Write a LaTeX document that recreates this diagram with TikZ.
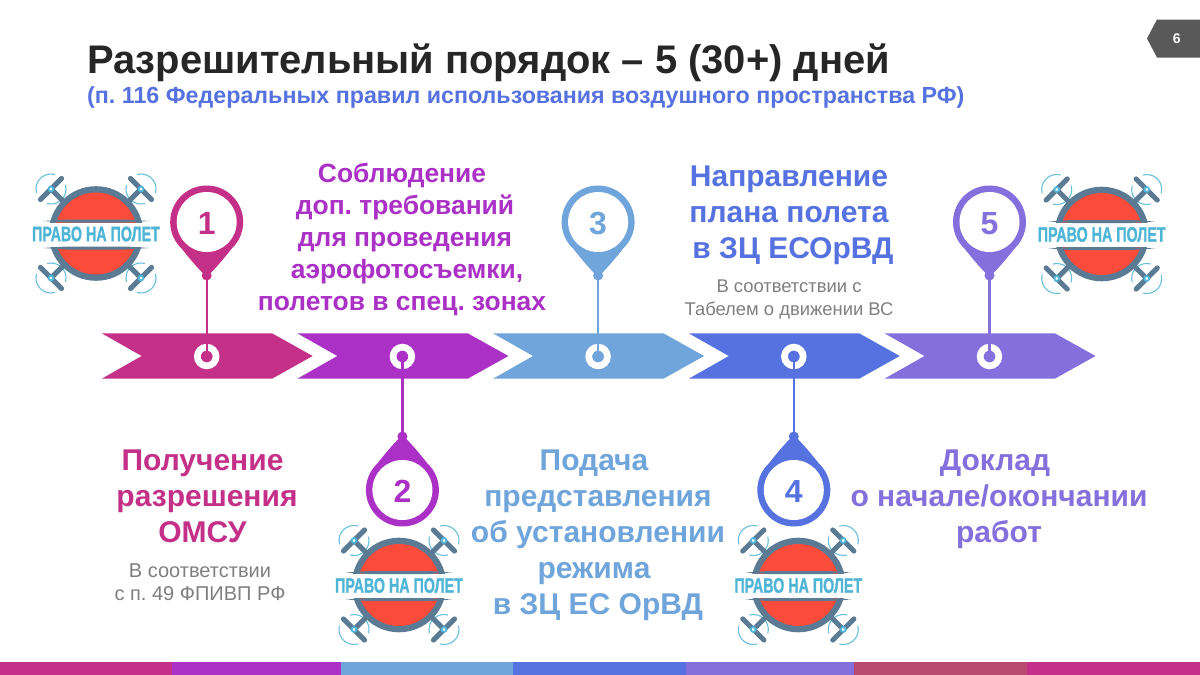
\documentclass[tikz,border=0pt]{standalone}
\usepackage{fontspec}
\setmainfont{Liberation Sans}
\newfontfamily\logofont[UprightFont={* Bold},FakeBold=1.5]{Liberation Sans}
\frenchspacing
\definecolor{cola}{HTML}{C43088}
\definecolor{colb}{HTML}{AA30C6}
\definecolor{colc}{HTML}{6FA5DA}
\definecolor{cold}{HTML}{5672E0}
\definecolor{cole}{HTML}{8470DC}
\definecolor{colf}{HTML}{B84A70}
\definecolor{ringdark}{HTML}{5B7A93}
\definecolor{redfill}{HTML}{FA4B3B}
\definecolor{logoblue}{HTML}{4FB5D6}
\definecolor{graytext}{HTML}{7F7F7F}
\definecolor{badgegray}{HTML}{595959}
\tikzset{
  headtext/.style={font=\fontsize{#1}{#1}\selectfont\bfseries,anchor=base west,inner sep=0pt},
  steptext/.style={font=\fontsize{30}{36}\selectfont\bfseries,align=center,inner sep=0pt,text=#1},
  smalltext/.style={font=\fontsize{18.4}{23}\selectfont,align=center,inner sep=0pt,text=graytext},
  pinnum/.style={font=\fontsize{32}{32}\selectfont\bfseries,inner sep=0pt,text=#1},
  ringmark/.style={circle,draw=white,line width=6.7pt,minimum size=18.7pt,inner sep=0pt},
  stem/.style={line width=2.4pt,draw=#1},
  pics/dronelogo/.style={code={
    \foreach \sx/\sy/\ang in {-1/1/135,1/1/45,-1/-1/225,1/-1/-45}{
      \begin{scope}[shift={(\sx*45,\sy*44.5)},rotate=\ang]
      \draw [logoblue!85,line width=1.1pt] (-60:15) arc (-60:60:15);
      \draw [logoblue!85,line width=1.1pt] (120:15) arc (120:240:15);
      \draw [ringdark,line width=5pt] (0,0) -- (-20,0);
      \draw [ringdark,line width=5pt,line cap=round] (0,-15) -- (0,15);
      \fill [logoblue] (0,0) circle (3.4);
      \fill [white] (0,0) circle (1.6);
      \end{scope}
    }
    \fill [ringdark] (0,0) circle (47.3);
    \fill [redfill] (0,0) circle (41);
    \fill [white] (-62,11) rectangle (62,-13);
    \fill [ringdark] (-53,12.5) -- (-30,14) -- (30,14) -- (53,12.5) -- (30,11) -- (-30,11) -- cycle;
    \fill [ringdark] (-53,-14.5) -- (-30,-13) -- (30,-13) -- (53,-14.5) -- (30,-16) -- (-30,-16) -- cycle;
    \node (-text) [xscale=0.68,text=logoblue,inner sep=0pt,font=\fontsize{21}{21}\logofont] at (0,-0.5) {ПРАВО НА ПОЛЕТ};
  }}
}
% name, x, y, colour, number, rotation
\newcommand{\pinmark}[6]{
\begin{scope}[shift={(#2,#3)},rotate=#6]
\fill [#4] (-3,-52) .. controls (-9,-46) and (-16,-38) .. (-133:36.5) arc (-133:-407:36.5) .. controls (16,-38) and (9,-46) .. (3,-52) -- cycle;
\fill [white] (0,0) circle (30);
\fill [#4] (0,-53.5) circle (5);
\coordinate (knob#1) at (0,-53.5);
\end{scope}
\node (pin#1) [pinnum=#4] at (#2,#3-1.5) {#5};
}
\begin{document}
\begin{tikzpicture}[x=1pt,y=1pt]
\useasboundingbox (0,0) rectangle (1200,-675);
\fill [white] (0,0) rectangle (1200,-675);
% bottom strip
\foreach \xa/\xb/\col in {0/172/cola,172/340.5/colb,340.5/513/colc,513/686/cold,686/854/cole,854/1027/colf,1027/1200/cola}
  \fill [\col] (\xa,-662) rectangle (\xb,-675);
% page badge
\fill [badgegray] (1147,-38.5) -- (1157,-19.5) -- (1200,-19.5) -- (1200,-57.5) -- (1157,-57.5) -- cycle;
\node (pagenum) [text=white,inner sep=0pt,font=\fontsize{14}{14}\selectfont\bfseries] at (1176.7,-38.5) {6};
% heading
\node (title) [headtext=39.9,text=black!85] at (87,-73) {Разрешительный порядок – 5 (30+) дней};
\node (subtitle) [headtext=23.25,text=cold] at (87,-103.5) {(п. 116 Федеральных правил использования воздушного пространства РФ)};
% arrows
\foreach \i/\col in {0/cola,1/colb,2/colc,3/cold,4/cole}
  \fill [\col] (101.7+195.7*\i,-333.3) -- (272+195.7*\i,-333.3) -- (312.7+195.7*\i,-356) -- (272+195.7*\i,-378.7) -- (101.7+195.7*\i,-378.7) -- (141.7+195.7*\i,-356) -- cycle;
\node (ring1) [ringmark] at (206.7,-356.5) {};
\node (ring2) [ringmark] at (402.4,-356.5) {};
\node (ring3) [ringmark] at (598.1,-356.5) {};
\node (ring4) [ringmark] at (793.8,-356.5) {};
\node (ring5) [ringmark] at (989.5,-356.5) {};
% pins
\pinmark{1}{206.7}{-222}{cola}{1}{0}
\pinmark{2}{402.4}{-490}{colb}{2}{180}
\pinmark{3}{598.1}{-222}{colc}{3}{0}
\pinmark{4}{793.8}{-490}{cold}{4}{180}
\pinmark{5}{989.5}{-222}{cole}{5}{0}
\draw [stem=cola] (knob1) -- (ring1.center);
\draw [stem=colb] (knob2) -- (ring2.center);
\draw [stem=colc] (knob3) -- (ring3.center);
\draw [stem=cold] (knob4) -- (ring4.center);
\draw [stem=cole] (knob5) -- (ring5.center);
\fill [cola] (ring1) circle (5.5);
\fill [colb] (ring2) circle (5.5);
\fill [colc] (ring3) circle (5.5);
\fill [cold] (ring4) circle (5.5);
\fill [cole] (ring5) circle (5.5);
% logos
\pic (logoa) at (96,-233.5) {dronelogo};
\pic (logob) at (399,-585) {dronelogo};
\pic (logoc) at (798.3,-585) {dronelogo};
\pic (logod) at (1101.7,-234) {dronelogo};
% step texts
\node (texta) [steptext=cola] at (202.5,-496) {Получение\\\hspace{9pt}разрешения\\ОМСУ};
\node (notea) [smalltext,font=\fontsize{20}{23}\selectfont] at (200,-582) {В соответствии\\с п. 49 ФПИВП РФ};
\node (textb) [steptext=colb,font=\fontsize{26.4}{31.8}\selectfont\bfseries] at (402,-239.5) {Соблюдение\\\hspace{6pt}доп. требований\\\hspace{6pt}для проведения\\\hspace{10pt}аэрофотосъемки,\\полетов в спец. зонах};
\node (textc) [steptext=colc] at (598,-535) {Подача\rule{8pt}{0pt}\\представления\\об установлении\\режима\rule{8pt}{0pt}\\в ЗЦ ЕС ОрВД};
\node (textd) [steptext=cold] at (789,-215.5) {Направление\\плана полета\\\hspace{8pt}в ЗЦ ЕСОрВД};
\node (noted) [smalltext] at (789,-299) {В соответствии с\\Табелем о движении ВС};
\node (texte) [steptext=cole] at (999,-499) {Доклад\rule{8pt}{0pt}\\о начале/окончании\\работ};
\end{tikzpicture}
\end{document}
